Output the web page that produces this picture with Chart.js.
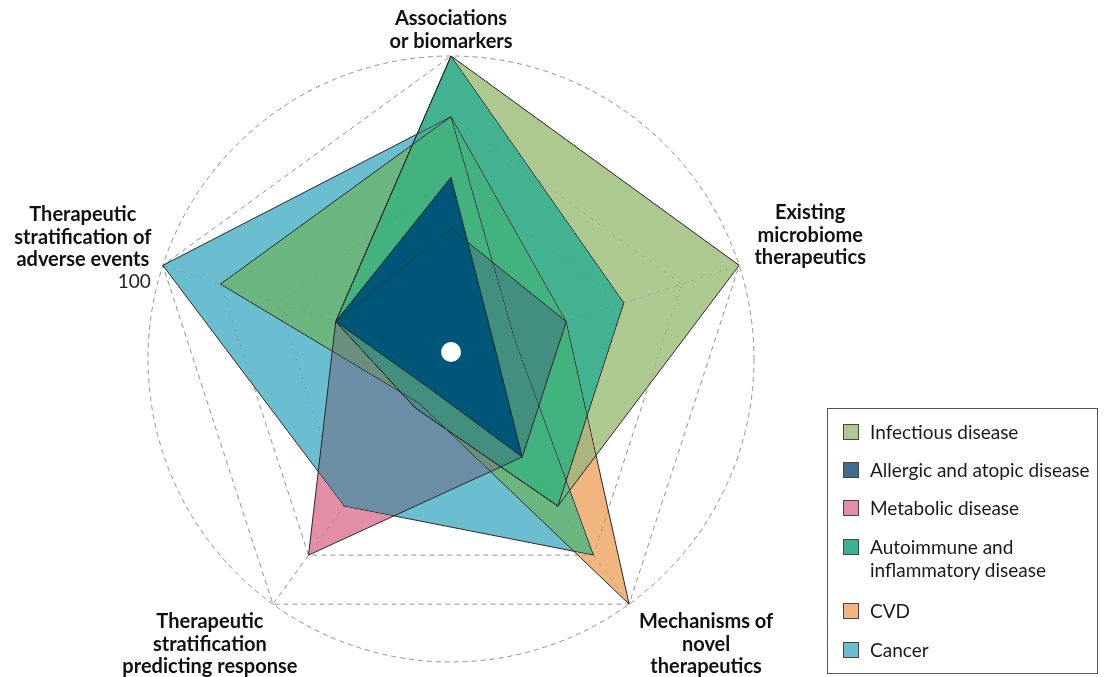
<!DOCTYPE html>
<html>
<head>
<meta charset="utf-8">
<script src="https://cdn.jsdelivr.net/npm/chart.js@4.4.0/dist/chart.umd.min.js"></script>
<style>
  html, body { margin: 0; padding: 0; background: #fff; }
  #wrap { position: relative; width: 1104px; height: 677px; }
  #legend {
    position: absolute; left: 827px; top: 408px; width: 271px; height: 266px;
    box-sizing: border-box; border: 1px solid #555; font-family: Lato, sans-serif;
    font-size: 19px; color: #1a1a1a;
  }
  .item { position: absolute; left: 15px; display: flex; align-items: flex-start; line-height: 23px; }
  .sw { width: 14px; height: 14px; border: 1px solid #444; margin: 4px 11px 0 0; flex: none; }
</style>
</head>
<body>
<div id="wrap">
  <canvas id="radar" width="1104" height="677"></canvas>
  <div id="legend"></div>
</div>
<script>
// ---------- data ----------
const axisLabels = [
  ['Associations', 'or biomarkers'],
  ['Existing', 'microbiome', 'therapeutics'],
  ['Mechanisms of', 'novel', 'therapeutics'],
  ['Therapeutic', 'stratification', 'predicting response'],
  ['Therapeutic', 'stratification of', 'adverse events']
];
const seriesNames = ['Infectious disease', 'Allergic and atopic disease', 'Metabolic disease',
  ['Autoimmune and', 'inflammatory disease'], 'CVD', 'Cancer'];
const infectious = [100, 100, 60, 20, 40];
const allergic   = [60, 15, 40, 12, 40];
const metabolic  = [43, 40, 40, 80, 40];
const autoimmune = [100, 60, 60, 20, 40];
const cvd        = [80, 40, 100, 18, 80];
const cancer     = [80, 22, 80, 60, 100];
const tickLabel = '100';

// colours (areas are combined with a "darken" blend, as in the figure)
const fills = ['rgb(173,201,144)', 'rgb(0,86,121)', 'rgb(227,142,164)',
  'rgb(66,178,148)', 'rgb(243,181,127)', 'rgb(107,189,208)'];
const swatches = ['#adc990', '#426a8a', '#e28ea6', '#3faf96', '#f2b57f', '#6bbdd1'];

const allSeries = [infectious, allergic, metabolic, autoimmune, cvd, cancer];

// ---------- extra drawing ----------
const extras = {
  id: 'extras',
  beforeDraw(chart) {
    const ctx = chart.ctx;
    ctx.save();
    ctx.fillStyle = '#fff';
    ctx.fillRect(0, 0, chart.width, chart.height);
    ctx.restore();
  },
  beforeDatasetsDraw(chart) {
    const r = chart.scales.r, ctx = chart.ctx;
    ctx.save();
    ctx.strokeStyle = '#8e959c';
    ctx.lineWidth = 1;
    ctx.setLineDash([5, 4]);
    ctx.beginPath();
    ctx.arc(r.xCenter, r.yCenter, r.drawingArea, 0, Math.PI * 2);
    ctx.stroke();
    ctx.restore();
    ctx.save();
    ctx.globalCompositeOperation = 'darken';
  },
  afterDatasetsDraw(chart) {
    chart.ctx.restore();
  },
  afterDraw(chart) {
    const r = chart.scales.r, ctx = chart.ctx;
    ctx.save();
    ctx.fillStyle = '#fff';
    ctx.beginPath();
    ctx.arc(r.xCenter, r.yCenter - 7, 10, 0, Math.PI * 2);
    ctx.fill();

    ctx.fillStyle = '#111';
    ctx.textAlign = 'center';
    ctx.font = 'bold 20px Lato, sans-serif';
    const lh = 22.5;
    // label anchors relative to each spoke end
    const spots = [
      { dx: 0, dy: -31 },
      { dx: 71, dy: -46 },
      { dx: 77, dy: 24 },
      { dx: -63, dy: 24 },
      { dx: -80, dy: -44 }
    ];
    axisLabels.forEach((lines, i) => {
      const p = r.getPointPositionForValue(i, 100);
      const s = spots[i];
      lines.forEach((t, k) => ctx.fillText(t, p.x + s.dx, p.y + s.dy + k * lh));
    });
    ctx.font = '19px Lato, sans-serif';
    ctx.textAlign = 'right';
    const p4 = r.getPointPositionForValue(4, 100);
    ctx.fillStyle = '#222';
    ctx.fillText(tickLabel, p4.x - 12, p4.y + 23);
    ctx.restore();
  }
};

new Chart(document.getElementById('radar'), {
  type: 'radar',
  data: {
    labels: axisLabels,
    datasets: allSeries.map((d, i) => ({
      label: Array.isArray(seriesNames[i]) ? seriesNames[i].join(' ') : seriesNames[i],
      data: d,
      backgroundColor: fills[i],
      borderColor: 'rgb(40,40,40)',
      borderWidth: 1,
      pointRadius: 0,
      fill: true
    }))
  },
  options: {
    responsive: false,
    animation: false,
    layout: { padding: { left: 148, top: 56, right: 350, bottom: 15 } },
    plugins: { legend: { display: false }, tooltip: { enabled: false } },
    elements: { line: { tension: 0 } },
    scales: {
      r: {
        min: 0, max: 100,
        ticks: { display: false, stepSize: 20 },
        pointLabels: { display: false },
        grid: { circular: false, color: '#8e959c', lineWidth: 1 },
        border: { dash: [5, 4] },
        angleLines: { color: '#8e959c', lineWidth: 1, borderDash: [5, 4] }
      }
    }
  },
  plugins: [extras]
});

// ---------- legend ----------
const legend = document.getElementById('legend');
const rowTops = [11, 49, 87, 126, 190, 229];
seriesNames.forEach((name, i) => {
  const row = document.createElement('div');
  row.className = 'item';
  row.style.top = rowTops[i] + 'px';
  const sw = document.createElement('span');
  sw.className = 'sw';
  sw.style.background = swatches[i];
  const txt = document.createElement('span');
  txt.innerHTML = Array.isArray(name) ? name.join('<br>') : name;
  row.appendChild(sw);
  row.appendChild(txt);
  legend.appendChild(row);
});
</script>
</body>
</html>
